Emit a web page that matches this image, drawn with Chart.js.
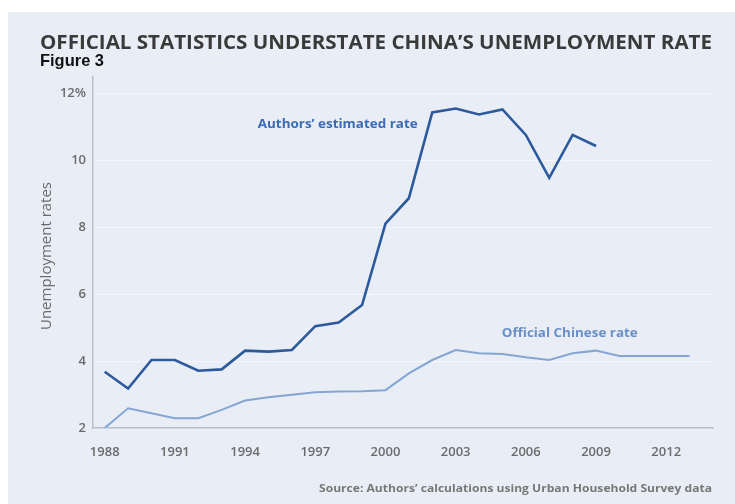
<!DOCTYPE html>
<html>
<head>
<meta charset="utf-8">
<script src="https://cdn.jsdelivr.net/npm/chart.js@4.4.1/dist/chart.umd.min.js"></script>
<style>
  html, body { margin: 0; padding: 0; background: #ffffff; }
  #panel {
    position: absolute; left: 8px; top: 12px;
    width: 727px; height: 492px;
    background: #e9eef6;
  }
</style>
</head>
<body>
<div id="panel"><canvas id="chart"></canvas></div>
<script>
// years on the x axis
const years = [1988, 1989, 1990, 1991, 1992, 1993, 1994, 1995, 1996, 1997, 1998, 1999,
  2000, 2001, 2002, 2003, 2004, 2005, 2006, 2007, 2008, 2009, 2010, 2011, 2012, 2013];

// Authors' estimated rate (1988-2009)
const estimatedRate = [3.68, 3.18, 4.03, 4.03, 3.71, 3.75, 4.31, 4.28, 4.33, 5.04, 5.15, 5.67,
  8.1, 8.86, 11.42, 11.54, 11.36, 11.51, 10.75, 9.47, 10.75, 10.42];

// Official Chinese rate (1988-2013)
const officialRate = [2.0, 2.59, 2.44, 2.29, 2.29, 2.54, 2.82, 2.92, 2.99, 3.07, 3.09, 3.10,
  3.13, 3.63, 4.03, 4.33, 4.23, 4.21, 4.11, 4.03, 4.23, 4.31, 4.15, 4.15, 4.15, 4.15];

const xTicks = [1988, 1991, 1994, 1997, 2000, 2003, 2006, 2009, 2012];
const yTicks = [2, 4, 6, 8, 10, 12];

const greyText = "#6b6b6b";

function toPoints(values) {
  return values.map((v, i) => ({ x: years[i], y: v }));
}

// draw text squeezed/stretched to a given width
function fitText(ctx, text, x, y, width) {
  const w = ctx.measureText(text).width;
  ctx.save();
  ctx.translate(x, y);
  ctx.scale(width / w, 1);
  ctx.fillText(text, 0, 0);
  ctx.restore();
}

// titles, source note, axis title and line labels
const textPlugin = {
  id: "texts",
  afterDraw(chart) {
    const ctx = chart.ctx;
    const xs = chart.scales.x;
    const ys = chart.scales.y;
    ctx.save();
    ctx.textBaseline = "alphabetic";
    ctx.textAlign = "left";

    ctx.fillStyle = "#3a3a3a";
    ctx.font = "bold 19px 'Open Sans', sans-serif";
    fitText(ctx, "OFFICIAL STATISTICS UNDERSTATE CHINA\u2019S UNEMPLOYMENT RATE", 32, 37, 672);

    ctx.fillStyle = "#111111";
    ctx.font = "bold 17px 'Liberation Sans Narrow', 'Liberation Sans', sans-serif";
    fitText(ctx, "Figure 3", 32, 54, 64);

    ctx.fillStyle = "#777777";
    ctx.font = "bold 11px 'Open Sans', sans-serif";
    fitText(ctx, "Source: Authors\u2019 calculations using Urban Household Survey data", 311, 480, 393);

    // y axis title
    ctx.save();
    ctx.translate(43, 318);
    ctx.rotate(-Math.PI / 2);
    ctx.fillStyle = greyText;
    ctx.font = "14px 'Open Sans', sans-serif";
    fitText(ctx, "Unemployment rates", 0, 0, 148);
    ctx.restore();

    // line labels
    ctx.font = "bold 13px 'Open Sans', sans-serif";
    ctx.fillStyle = "#3a6bb4";
    fitText(ctx, "Authors\u2019 estimated rate", xs.getPixelForValue(1994.54), ys.getPixelForValue(10.95), 160);
    ctx.fillStyle = "#6a8fc6";
    fitText(ctx, "Official Chinese rate", xs.getPixelForValue(2004.97), ys.getPixelForValue(4.72), 136);

    ctx.restore();
  }
};

const chartData = {
  datasets: [
    {
      label: "Authors' estimated rate",
      data: toPoints(estimatedRate),
      borderColor: "#2c5a9c",
      borderWidth: 2.6,
      pointRadius: 0,
      tension: 0,
    },
    {
      label: "Official Chinese rate",
      data: toPoints(officialRate),
      borderColor: "#85a6d4",
      borderWidth: 2,
      pointRadius: 0,
      tension: 0,
    },
  ],
};

const config = {
  type: "line",
  data: chartData,
  options: {
    responsive: true,
    maintainAspectRatio: false,
    animation: false,
    layout: { padding: { top: 65, right: 22, left: 0, bottom: 0 } },
    plugins: {
      legend: { display: false },
      tooltip: { enabled: false },
    },
    scales: {
      x: {
        type: "linear",
        min: 1987.5,
        max: 2014,
        afterBuildTicks: (axis) => { axis.ticks = xTicks.map(v => ({ value: v })); },
        afterFit: (axis) => { axis.height = 76; },
        grid: { display: false, drawTicks: false },
        border: { color: "#b9c0cc", width: 1.5 },
        ticks: {
          padding: 16,
          color: greyText,
          font: { family: "'Open Sans', sans-serif", size: 13, weight: "600" },
          callback: (v) => String(v),
          maxRotation: 0,
        },
      },
      y: {
        min: 2,
        max: 12.48,
        afterBuildTicks: (axis) => { axis.ticks = yTicks.map(v => ({ value: v })); },
        afterFit: (axis) => { axis.width = 85; },
        grid: {
          drawTicks: false,
          color: (c) => (c.tick && c.tick.value === 2 ? "rgba(0,0,0,0)" : "rgba(255,255,255,0.55)"),
          lineWidth: 1,
        },
        border: { color: "#b9c0cc", width: 1.5 },
        ticks: {
          padding: 7,
          color: greyText,
          font: { family: "'Open Sans', sans-serif", size: 13, weight: "600" },
          callback: (v) => (v === 12 ? "12%" : String(v)),
        },
      },
    },
  },
  plugins: [textPlugin],
};

new Chart(document.getElementById("chart").getContext("2d"), config);
</script>
</body>
</html>
